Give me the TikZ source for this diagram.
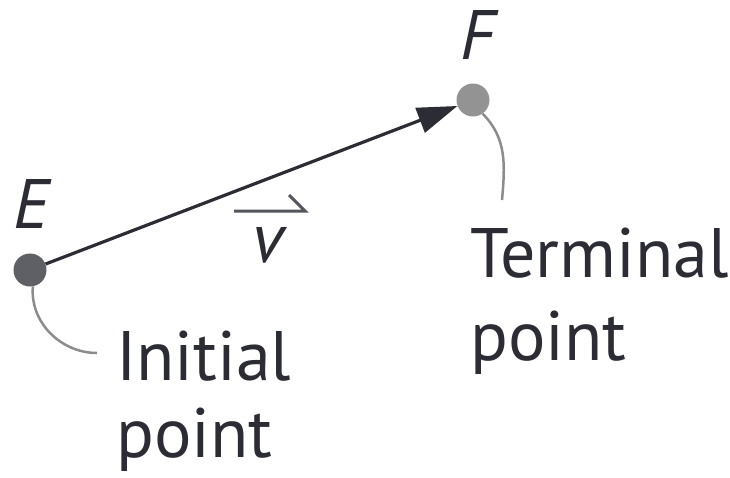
\documentclass[tikz,border=0pt]{standalone}
\usepackage{fontspec}
\setmainfont{PT Sans}
\usetikzlibrary{arrows.meta}
\definecolor{inkdark}{HTML}{2B2C34}
\definecolor{dotE}{HTML}{5F5F66}
\definecolor{dotF}{HTML}{939393}
\definecolor{leader}{HTML}{8C8C8C}
\begin{document}
\begin{tikzpicture}[x=1pt,y=1pt,
  ptdot/.style={circle,inner sep=0pt,minimum size=33pt},
  lbl/.style={inner sep=0pt,text=inkdark,font=\fontsize{70}{84}\selectfont\itshape},
  txt/.style={inner sep=0pt,anchor=base west,text=inkdark,font=\fontsize{70}{84}\selectfont},
  leaderline/.style={draw=leader,line width=2.5pt}]
\useasboundingbox (0,0) rectangle (730,-477);
% points
\node[ptdot,fill=dotE] (E) at (30,-270) {};
\node[ptdot,fill=dotF] (F) at (473,-100) {};
% labels
\node[lbl] (Elbl) at (31,-204) {E};
\node[lbl] (Flbl) at (478,-35) {F};
% vector
\draw[draw=inkdark,line width=3.2pt,-{Triangle[length=40pt,width=26pt]}] (E) -- (F);
% vector name v with harpoon
\node[lbl,anchor=base] (v) at (268,-262) {v};
\coordinate (hl) at (234,-211);
\coordinate (hr) at (305,-211);
\coordinate (hb) at (289,-195);
\draw[draw=inkdark!80,line width=3pt] (hl) -- (hr) -- (hb);
% texts
\node[txt] (ini1) at (116,-380) {Initial};
\node[txt] (ini2) at (116,-457) {point};
\node[txt] (ter1) at (470,-277) {Terminal};
\node[txt] (ter2) at (470,-360) {point};
% leader lines
\coordinate (Eend) at (97,-353);
\coordinate (Fend) at (502,-200);
\draw[leaderline] (E.-80) to[out=-95,in=180] (Eend);
\draw[leaderline] (F.-55) to[out=-45,in=85] (Fend);
\end{tikzpicture}
\end{document}
